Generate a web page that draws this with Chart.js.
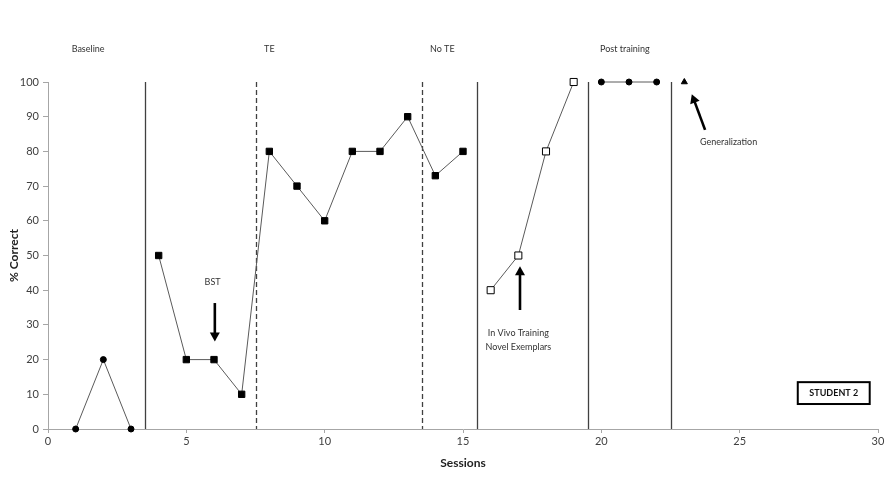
<!DOCTYPE html>
<html lang="en">
<head>
    <meta charset="UTF-8">
    <title>Student 2 - % Correct by Session</title>
    <script src="https://cdn.jsdelivr.net/npm/chart.js"></script>
    <style>
        html, body { margin: 0; padding: 0; background: #fff; }
        #wrap { width: 889px; height: 482px; }
    </style>
</head>
<body>
    <div id="wrap"><canvas id="chart" width="889" height="482"></canvas></div>
    <script>
        // Data
        const baselineSessions = [1, 2, 3];
        const baselineValues = [0, 20, 0];
        const trainingSessions = [4, 5, 6, 7, 8, 9, 10, 11, 12, 13, 14, 15];
        const trainingValues = [50, 20, 20, 10, 80, 70, 60, 80, 80, 90, 73, 80];
        const inVivoSessions = [16, 17, 18, 19];
        const inVivoValues = [40, 50, 80, 100];
        const postSessions = [20, 21, 22];
        const postValues = [100, 100, 100];
        const generalSessions = [23];
        const generalValues = [100];

        // Phase change lines (session values) and labels
        const solidLines = [3.5, 15.5, 19.5, 22.5];
        const dashedLines = [7.5, 13.5];
        const phaseLabels = ['Baseline', 'TE', 'No TE', 'Post training'];
        const phaseLabelX = [1.45, 8.0, 14.25, 20.85];

        const xTicks = [0, 5, 10, 15, 20, 25, 30];
        const yTicks = [0, 10, 20, 30, 40, 50, 60, 70, 80, 90, 100];

        const FONT = 'Lato, "Open Sans", sans-serif';
        const LINE = '#5a5a5a';

        const toPts = (xs, ys) => xs.map((x, i) => ({ x: x, y: ys[i] }));

        function series(label, xs, ys, style, r, fill) {
            return {
                label: label,
                data: toPts(xs, ys),
                showLine: true,
                clip: false,
                borderColor: LINE,
                borderWidth: 1,
                pointStyle: style,
                pointRadius: r,
                pointBackgroundColor: fill,
                pointBorderColor: '#000',
                pointBorderWidth: 1
            };
        }

        // Annotations: phase lines, arrows, notes
        const annotate = {
            id: 'annotate',
            beforeDatasetsDraw(chart) {
                const ctx = chart.ctx;
                const xs = chart.scales.x, ys = chart.scales.y;
                const top = ys.getPixelForValue(100), bottom = ys.getPixelForValue(0);
                ctx.save();
                // phase lines
                ctx.strokeStyle = '#404040';
                ctx.lineWidth = 1.3;
                solidLines.forEach(v => {
                    const px = Math.round(xs.getPixelForValue(v)) + 0.5;
                    ctx.beginPath(); ctx.moveTo(px, top); ctx.lineTo(px, bottom); ctx.stroke();
                });
                ctx.setLineDash([5, 3]);
                dashedLines.forEach(v => {
                    const px = Math.round(xs.getPixelForValue(v)) + 0.5;
                    ctx.beginPath(); ctx.moveTo(px, top); ctx.lineTo(px, bottom); ctx.stroke();
                });
                ctx.restore();
            },
            afterDatasetsDraw(chart) {
                const ctx = chart.ctx;
                const xs = chart.scales.x, ys = chart.scales.y;
                const top = ys.getPixelForValue(100);
                ctx.save();

                // phase labels above plot
                ctx.fillStyle = '#333';
                ctx.font = '9px ' + FONT;
                ctx.textAlign = 'center';
                ctx.textBaseline = 'middle';
                phaseLabels.forEach((t, i) => {
                    ctx.fillText(t, xs.getPixelForValue(phaseLabelX[i]), top - 33);
                });

                // arrows
                function arrow(x1, y1, x2, y2) {
                    const ax = xs.getPixelForValue(x1), ay = ys.getPixelForValue(y1);
                    const bx = xs.getPixelForValue(x2), by = ys.getPixelForValue(y2);
                    const ang = Math.atan2(by - ay, bx - ax);
                    const head = 9;
                    ctx.strokeStyle = '#000';
                    ctx.fillStyle = '#000';
                    ctx.lineWidth = 2.6;
                    ctx.beginPath();
                    ctx.moveTo(ax, ay);
                    ctx.lineTo(bx - Math.cos(ang) * head * 0.8, by - Math.sin(ang) * head * 0.8);
                    ctx.stroke();
                    ctx.beginPath();
                    ctx.moveTo(bx, by);
                    ctx.lineTo(bx - head * Math.cos(ang) + 5 * Math.sin(ang), by - head * Math.sin(ang) - 5 * Math.cos(ang));
                    ctx.lineTo(bx - head * Math.cos(ang) - 5 * Math.sin(ang), by - head * Math.sin(ang) + 5 * Math.cos(ang));
                    ctx.closePath();
                    ctx.fill();
                }
                arrow(6.03, 36.3, 6.03, 25.2);
                arrow(17.06, 34.3, 17.06, 46.9);
                arrow(23.75, 86.2, 23.27, 96.5);

                // notes
                ctx.fillStyle = '#333';
                ctx.font = '9px ' + FONT;
                ctx.fillText('BST', xs.getPixelForValue(5.95), ys.getPixelForValue(42.4));
                ctx.fillText('In Vivo Training', xs.getPixelForValue(17.0), ys.getPixelForValue(27.6));
                ctx.fillText('Novel Exemplars', xs.getPixelForValue(17.0), ys.getPixelForValue(23.6));
                ctx.fillText('Generalization', xs.getPixelForValue(24.6), ys.getPixelForValue(82.6));

                // student box
                const bx1 = xs.getPixelForValue(27.1), bx2 = xs.getPixelForValue(29.7);
                const by1 = ys.getPixelForValue(13.5), by2 = ys.getPixelForValue(7.2);
                ctx.strokeStyle = '#000';
                ctx.lineWidth = 2;
                ctx.strokeRect(bx1, by1, bx2 - bx1, by2 - by1);
                ctx.fillStyle = '#111';
                ctx.font = 'bold 9px ' + FONT;
                ctx.fillText('STUDENT 2', (bx1 + bx2) / 2, (by1 + by2) / 2);

                ctx.restore();
            }
        };

        new Chart(document.getElementById('chart'), {
            type: 'scatter',
            data: {
                datasets: [
                    series('Baseline', baselineSessions, baselineValues, 'circle', 3, '#000'),
                    series('Training', trainingSessions, trainingValues, 'rect', 4.5, '#000'),
                    series('In Vivo', inVivoSessions, inVivoValues, 'rect', 5, '#fff'),
                    series('Post training', postSessions, postValues, 'circle', 3, '#000'),
                    series('Generalization', generalSessions, generalValues, 'triangle', 3.5, '#000')
                ]
            },
            options: {
                responsive: false,
                animation: false,
                layout: { padding: { top: 82, right: 11, left: 0, bottom: 0 } },
                plugins: {
                    legend: { display: false },
                    tooltip: { enabled: false }
                },
                scales: {
                    x: {
                        type: 'linear',
                        min: 0,
                        max: 30,
                        afterBuildTicks: s => { s.ticks = xTicks.map(v => ({ value: v })); },
                        afterFit: s => { s.height = 53; },
                        border: { color: '#a6a6a6', width: 1 },
                        grid: { display: true, drawOnChartArea: false, drawTicks: true, tickLength: 4, color: '#a6a6a6' },
                        ticks: { color: '#404040', font: { family: FONT, size: 11 }, padding: 2, maxRotation: 0 },
                        title: { display: true, text: 'Sessions', color: '#222', font: { family: FONT, size: 12, weight: 'bold' }, padding: { top: 0, bottom: 12 } }
                    },
                    y: {
                        min: 0,
                        max: 100,
                        afterBuildTicks: s => { s.ticks = yTicks.map(v => ({ value: v })); },
                        afterFit: s => { s.width = 48; },
                        border: { color: '#a6a6a6', width: 1 },
                        grid: { display: true, drawOnChartArea: false, drawTicks: true, tickLength: 5, color: '#a6a6a6' },
                        ticks: { color: '#404040', font: { family: FONT, size: 11 }, padding: 4 },
                        title: { display: true, text: '% Correct', color: '#222', font: { family: FONT, size: 12, weight: 'bold' }, padding: { top: 7, bottom: 0 } }
                    }
                }
            },
            plugins: [annotate]
        });
    </script>
</body>
</html>
